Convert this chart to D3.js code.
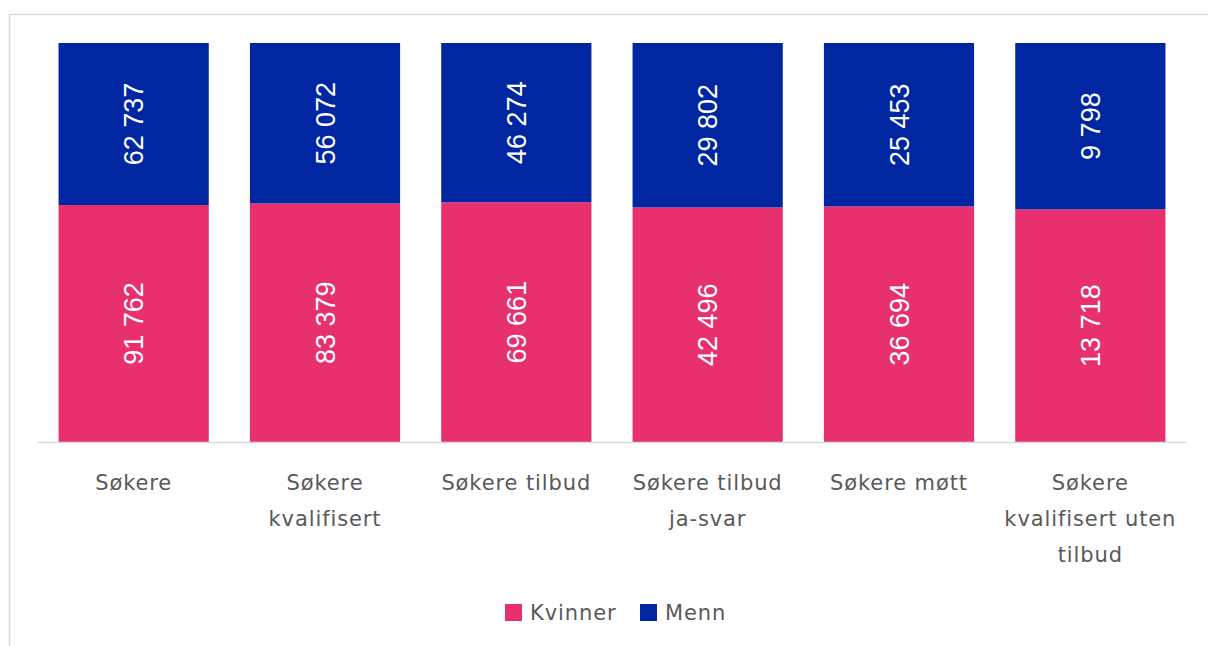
<!DOCTYPE html>
<html>
<head>
<meta charset="utf-8">
<script src="https://cdn.jsdelivr.net/npm/d3@7"></script>
<style>
  body { margin: 0; background: #fff; }
</style>
</head>
<body>
<div id="chart"></div>
<script>
// data
var categories = ['Søkere', 'Søkere kvalifisert', 'Søkere tilbud', 'Søkere tilbud ja-svar', 'Søkere møtt', 'Søkere kvalifisert uten tilbud'];
var tickLabels = [['Søkere'], ['Søkere', 'kvalifisert'], ['Søkere tilbud'], ['Søkere tilbud', 'ja-svar'], ['Søkere møtt'], ['Søkere', 'kvalifisert uten', 'tilbud']];
var kvinner = [91762, 83379, 69661, 42496, 36694, 13718];
var menn = [62737, 56072, 46274, 29802, 25453, 9798];
var seriesNames = ['Kvinner', 'Menn'];
var colors = ['#e8306f', '#0026a1'];

var w = 1208, h = 646;
var svg = d3.select('#chart').append('svg')
    .attr('width', w)
    .attr('height', h);

// frame
svg.append('path')
    .attr('d', 'M9.5,' + h + 'V14.5H' + w)
    .attr('fill', 'none')
    .attr('stroke', '#d9d9d9')
    .attr('stroke-width', 1.5);

var rows = categories.map(function (c, i) {
    var t = kvinner[i] + menn[i];
    return {key: c, Kvinner: kvinner[i] / t, Menn: menn[i] / t, raw: {Kvinner: kvinner[i], Menn: menn[i]}};
});
var stack = d3.stack().keys(seriesNames)(rows);

var xscale = d3.scaleBand()
    .domain(categories)
    .range([38, 1186])
    .paddingInner(0.215)
    .paddingOuter(0.1075);

var yscale = d3.scaleLinear()
    .domain([0, 1])
    .range([442, 43]);

var fmt = d3.formatLocale({decimal: ',', thousands: ' ', grouping: [3], currency: ['', '']}).format(',d');

var layers = svg.selectAll('g.layer')
    .data(stack)
    .enter()
    .append('g')
    .attr('class', 'layer')
    .attr('fill', function (d, i) { return colors[i]; });

layers.selectAll('rect')
    .data(function (d) { return d; })
    .enter()
    .append('rect')
    .attr('x', function (d) { return xscale(d.data.key); })
    .attr('width', xscale.bandwidth())
    .attr('y', function (d) { return yscale(d[1]); })
    .attr('height', function (d) { return yscale(d[0]) - yscale(d[1]); });

// value labels
layers.each(function (layer) {
    d3.select(this).selectAll('text')
        .data(layer)
        .enter()
        .append('text')
        .attr('transform', function (d) {
            var cx = xscale(d.data.key) + xscale.bandwidth() / 2;
            var cy = (yscale(d[0]) + yscale(d[1])) / 2;
            return 'translate(' + cx + ',' + cy + ') rotate(-90)';
        })
        .attr('text-anchor', 'middle')
        .attr('dy', '0.36em')
        .attr('fill', '#fff')
        .attr('font-family', 'Liberation Sans, Arial, sans-serif')
        .attr('font-size', '27px')
        .text(function (d) { return fmt(d.data.raw[layer.key]); });
});

// x axis
svg.append('line')
    .attr('x1', 38).attr('x2', 1186)
    .attr('y1', 442.5).attr('y2', 442.5)
    .attr('stroke', '#d9d9d9')
    .attr('stroke-width', 1.5);

var xl = svg.append('g').attr('class', 'xaxis');
xl.selectAll('text')
    .data(categories)
    .enter()
    .append('text')
    .attr('x', function (d) { return xscale(d) + xscale.bandwidth() / 2; })
    .attr('y', 490)
    .attr('text-anchor', 'middle')
    .attr('fill', '#595959')
    .attr('font-family', 'DejaVu Sans, sans-serif')
    .attr('font-size', '21px')
    .attr('letter-spacing', '0.9px')
    .each(function (d, i) {
        var t = d3.select(this);
        tickLabels[i].forEach(function (line, j) {
            t.append('tspan')
                .attr('x', xscale(d) + xscale.bandwidth() / 2)
                .attr('dy', j === 0 ? 0 : 36)
                .text(line);
        });
    });

// legend
var legend = svg.append('g').attr('transform', 'translate(505,604)');
var lx = [0, 135];
seriesNames.forEach(function (s, i) {
    var g = legend.append('g').attr('transform', 'translate(' + lx[i] + ',0)');
    g.append('rect').attr('width', 17).attr('height', 17).attr('fill', colors[i]);
    g.append('text')
        .attr('x', 25).attr('y', 16)
        .attr('fill', '#595959')
        .attr('font-family', 'DejaVu Sans, sans-serif')
        .attr('font-size', '21px')
        .attr('letter-spacing', '0.9px')
        .text(s);
});
</script>
</body>
</html>
